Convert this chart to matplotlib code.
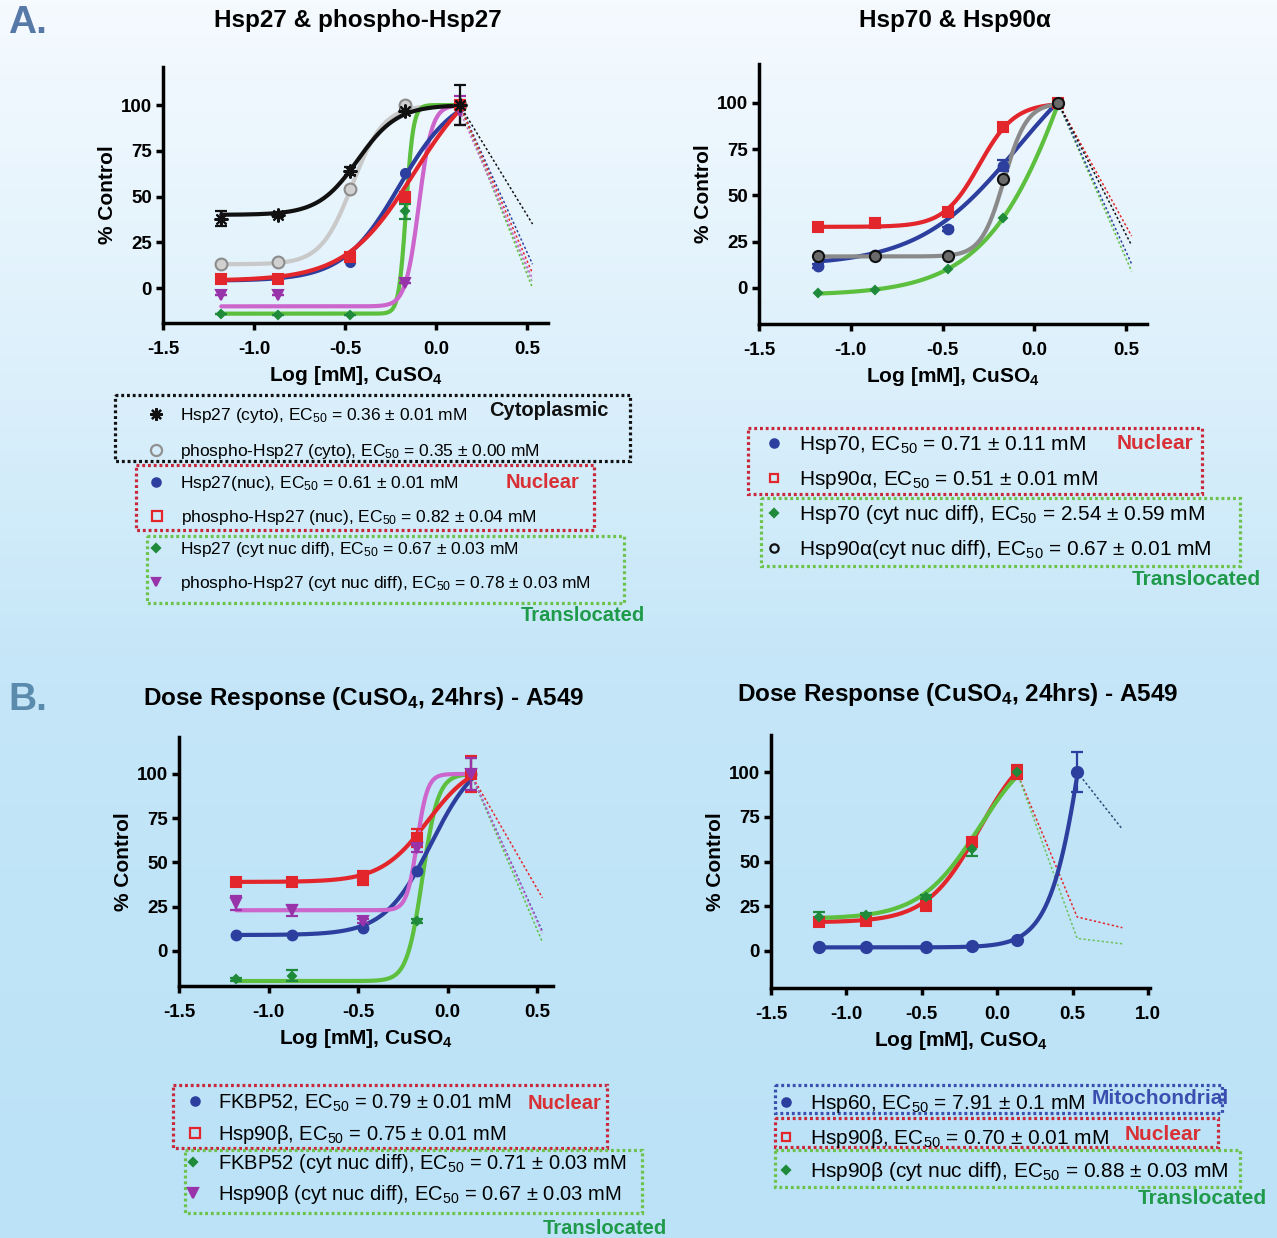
import numpy as np
import matplotlib
matplotlib.use('Agg')
import matplotlib.pyplot as plt
from matplotlib.patches import Rectangle
from matplotlib.colors import LinearSegmentedColormap

plt.rcParams['font.family'] = ['Liberation Sans', 'DejaVu Sans']
plt.rcParams['mathtext.fontset'] = 'custom'
plt.rcParams['mathtext.rm'] = 'Liberation Sans'
plt.rcParams['mathtext.default'] = 'regular'

W, H = 1277, 1238

# log dose, mM
log_dose = [-1.18, -0.87, -0.47, -0.17, 0.13]
tail_x = [0.13, 0.53]
tail_x_b2 = [0.13, 0.53, 0.83]
hsp60_x = [-1.18, -0.87, -0.47, -0.17, 0.13, 0.53]
hsp60_tail_x = [0.53, 0.83]

# fit params: bottom, top, logEC50, hill slope
# --- A left: Hsp27 & phospho-Hsp27
hsp27_cyto = [38, 40, 64, 97, 100]
hsp27_cyto_err = [4, 1, 2, 1, 11]
hsp27_cyto_fit = (40, 100, -0.43, 4.0)
hsp27_cyto_tail = 35
p_hsp27_cyto = [13, 14, 54, 100, 100]
p_hsp27_cyto_fit = (13, 100, -0.46, 5.0)
p_hsp27_cyto_tail = 3
hsp27_nuc = [5, 5, 14, 63, 100]
hsp27_nuc_fit = (4, 108, -0.20, 2.8)
hsp27_nuc_tail = 13
p_hsp27_nuc = [5, 5, 17, 50, 100]
p_hsp27_nuc_fit = (4, 122, -0.12, 2.3)
p_hsp27_nuc_tail = 8
hsp27_diff = [-14, -15, -15, 42, 100]
hsp27_diff_err = [0, 0, 0, 4, 2]
hsp27_diff_fit = (-14, 100, -0.165, 22)
hsp27_diff_tail = 0
p_hsp27_diff = [-4, -4, np.nan, 3, 97]
p_hsp27_diff_err = [0, 0, 0, 0, 8]
p_hsp27_diff_fit = (-10, 100, -0.095, 12)
p_hsp27_diff_tail = 5

# --- A right: Hsp70 & Hsp90a
hsp70 = [12, 18, 32, 66, 100]
hsp70_err = [1, 1, 1, 3, 1]
hsp70_fit = (12, 140, -0.09, 1.6)
hsp70_tail = 13
hsp90a = [33, 35, 41, 87, 100]
hsp90a_fit = (33, 100, -0.30, 4.5)
hsp90a_tail = 28
hsp70_diff = [-3, -1, 10, 38, 100]
hsp70_diff_fit = (-4, 301, 0.30, 1.7)
hsp70_diff_tail = 9
hsp90a_diff = [17, 17, 17, 59, 100]
hsp90a_diff_fit = (17, 100, -0.165, 7)
hsp90a_diff_tail = 23

# --- B left: FKBP52 & Hsp90b
fkbp52 = [9, 9, 13, 45, 100]
fkbp52_fit = (9, 113, -0.09, 3.3)
fkbp52_tail = 11
hsp90b = [39, 39, 41, 64, 100]
hsp90b_err = [2, 1, 4, 5, 10]
hsp90b_fit = (39, 108, -0.11, 3.3)
hsp90b_tail = 30
fkbp52_diff = [-16, -14, np.nan, 17, 100]
fkbp52_diff_err = [1, 3, 0, 1, 9]
fkbp52_diff_fit = (-17, 100, -0.14, 10)
fkbp52_diff_tail = 5
hsp90b_diff = [27, 23, 17, 58, 100]
hsp90b_diff_err = [4, 3, 1, 2, 9]
hsp90b_diff_fit = (23, 100, -0.17, 15)
hsp90b_diff_tail = 10

# --- B right: Hsp60 & Hsp90b
hsp60 = [2, 2, 2, 3, 6, 100]
hsp60_err = [0, 0, 0, 0, 0, 11]
hsp60_fit = (2, 300, 0.62, 3.6)
hsp60_tail = [100, 68]
hsp90b_b2 = [16, 17, 25, 61, 100]
hsp90b_b2_err = [1, 1, 1, 2, 4]
hsp90b_b2_fit = (16, 120, -0.12, 2.5)
hsp90b_b2_tail = [100, 19, 13]
hsp90b_b2_diff = [19, 20, 30, 57, 100]
hsp90b_b2_diff_err = [3, 1, 1, 4, 3]
hsp90b_b2_diff_fit = (18, 120, -0.12, 2.2)
hsp90b_b2_diff_tail = [100, 7, 4]

BLACK = '#111111'
LGRAY = '#c9c9c9'
MGRAY = '#8a8a8a'
BLUE = '#2d3f9e'
RED = '#e3262b'
GREEN = '#5cbf3e'
DGREEN = '#1e8a3a'
PINK = '#cc66cc'
PURPLE = '#9933aa'

fig = plt.figure(figsize=(W / 100, H / 100), dpi=100)

bg = fig.add_axes([0, 0, 1, 1], zorder=0)
cmap = LinearSegmentedColormap.from_list(
    'bg', [(0, '#f5faff'), (0.3, '#dcf0fb'), (0.55, '#c4e6f8'), (1, '#bbe2f7')])
bg.imshow(np.linspace(0, 1, 256).reshape(-1, 1), aspect='auto', cmap=cmap,
          extent=[0, 1, 0, 1])
bg.axis('off')


def px_axes(l, t, r, b):
    return fig.add_axes([l / W, 1 - b / H, (r - l) / W, (b - t) / H], zorder=1)


def style(ax, xlim, ylim, xticks):
    ax.set_facecolor('none')
    for s in ['top', 'right']:
        ax.spines[s].set_visible(False)
    for s in ['left', 'bottom']:
        ax.spines[s].set_linewidth(2.5)
    ax.set_xlim(xlim)
    ax.set_ylim(ylim)
    ax.set_xticks(xticks)
    ax.set_xticklabels(['%.1f' % v for v in xticks])
    ax.set_yticks([0, 25, 50, 75, 100])
    ax.set_yticklabels(['0', '25', '50', '75', '100'])
    ax.tick_params(width=2.5, length=5, labelsize=13.5, pad=3)
    ax.tick_params(axis='x', pad=8)
    for lbl in ax.get_xticklabels() + ax.get_yticklabels():
        lbl.set_fontweight('bold')
    ax.set_xlabel('Log [mM], CuSO$_4$', fontsize=15, fontweight='bold', labelpad=4)
    ax.set_ylabel('% Control', fontsize=15, fontweight='bold', labelpad=3)


def draw(ax, x, y, fit, lc, mc, marker, ms, err=None, mfc=None, mec=None,
         tx=None, ty=None, tc=None, xend=0.13):
    b, t, e, h = fit
    xs = np.linspace(x[0], xend, 300)
    ys = b + (t - b) / (1 + 10 ** (h * (e - xs)))
    if tx is not None:
        ax.plot(tx, ty, color=tc or lc, lw=1.1, ls=(0, (1.5, 1.5)), zorder=2)
    ax.plot(xs, ys, color=lc, lw=3, zorder=3, solid_capstyle='round')
    if err is not None:
        ax.errorbar(x, y, yerr=err, fmt='none', ecolor=mec or mc, elinewidth=1.6,
                    capsize=4, capthick=1.6, zorder=4)
    ax.plot(x, y, ls='none', marker=marker, ms=ms, mfc=mfc or mc, mec=mec or mc,
            mew=1.5, zorder=5)


# ---------------- A left
ax1 = px_axes(163, 67, 548, 323)
style(ax1, (-1.5, 0.615), (-19.1, 120.8), [-1.5, -1.0, -0.5, 0.0, 0.5])
draw(ax1, log_dose, p_hsp27_cyto, p_hsp27_cyto_fit, LGRAY, '#d0d0d0', 'o', 8.5,
     mec='#8c8c8c', tx=tail_x, ty=[100, p_hsp27_cyto_tail], tc='#a0a0a0')
draw(ax1, log_dose, hsp27_diff, hsp27_diff_fit, GREEN, DGREEN, 'D', 4, err=hsp27_diff_err,
     tx=tail_x, ty=[100, hsp27_diff_tail])
draw(ax1, log_dose, p_hsp27_diff, p_hsp27_diff_fit, PINK, PURPLE, 'v', 7, err=p_hsp27_diff_err,
     tx=tail_x, ty=[97, p_hsp27_diff_tail])
draw(ax1, log_dose, hsp27_nuc, hsp27_nuc_fit, BLUE, BLUE, 'o', 6.5,
     tx=tail_x, ty=[100, hsp27_nuc_tail])
draw(ax1, log_dose, p_hsp27_nuc, p_hsp27_nuc_fit, RED, RED, 's', 6.5,
     tx=tail_x, ty=[100, p_hsp27_nuc_tail])
draw(ax1, log_dose, hsp27_cyto, hsp27_cyto_fit, BLACK, BLACK, (8, 2, 0), 10, err=hsp27_cyto_err,
     tx=tail_x, ty=[100, hsp27_cyto_tail])

# ---------------- A right
ax2 = px_axes(759, 64, 1147, 324)
style(ax2, (-1.5, 0.614), (-19.5, 121), [-1.5, -1.0, -0.5, 0.0, 0.5])
draw(ax2, log_dose, hsp70_diff, hsp70_diff_fit, GREEN, DGREEN, 'D', 4,
     tx=tail_x, ty=[100, hsp70_diff_tail])
draw(ax2, log_dose, hsp70, hsp70_fit, BLUE, BLUE, 'o', 7, err=hsp70_err,
     tx=tail_x, ty=[100, hsp70_tail])
draw(ax2, log_dose, hsp90a, hsp90a_fit, RED, RED, 's', 7,
     tx=tail_x, ty=[100, hsp90a_tail])
draw(ax2, log_dose, hsp90a_diff, hsp90a_diff_fit, MGRAY, '#6a6a6a', 'o', 8, mec=BLACK,
     tx=tail_x, ty=[100, hsp90a_diff_tail], tc=BLACK)

# ---------------- B left
ax3 = px_axes(179, 737, 553, 986)
style(ax3, (-1.5, 0.589), (-19.8, 120.9), [-1.5, -1.0, -0.5, 0.0, 0.5])
draw(ax3, log_dose, fkbp52_diff, fkbp52_diff_fit, GREEN, DGREEN, 'D', 4, err=fkbp52_diff_err,
     tx=tail_x, ty=[100, fkbp52_diff_tail])
draw(ax3, log_dose, fkbp52, fkbp52_fit, BLUE, BLUE, 'o', 7,
     tx=tail_x, ty=[100, fkbp52_tail])
draw(ax3, log_dose, hsp90b, hsp90b_fit, RED, RED, 's', 7, err=hsp90b_err,
     tx=tail_x, ty=[100, hsp90b_tail])
draw(ax3, log_dose, hsp90b_diff, hsp90b_diff_fit, PINK, PURPLE, 'v', 7.5, err=hsp90b_diff_err,
     tx=tail_x, ty=[100, hsp90b_diff_tail])

# ---------------- B right
ax4 = px_axes(771, 735, 1150, 988)
style(ax4, (-1.5, 1.013), (-20.7, 120.7), [-1.5, -1.0, -0.5, 0.0, 0.5, 1.0])
draw(ax4, log_dose, hsp90b_b2, hsp90b_b2_fit, RED, RED, 's', 7, err=hsp90b_b2_err,
     tx=tail_x_b2, ty=hsp90b_b2_tail)
draw(ax4, log_dose, hsp90b_b2_diff, hsp90b_b2_diff_fit, GREEN, DGREEN, 'D', 4.5,
     err=hsp90b_b2_diff_err, tx=tail_x_b2, ty=hsp90b_b2_diff_tail, tc='#6bc25a')
draw(ax4, hsp60_x, hsp60, hsp60_fit, BLUE, BLUE, 'o', 8, err=hsp60_err,
     tx=hsp60_tail_x, ty=hsp60_tail, tc='#2a4a7a', xend=0.53)

# ---------------- text overlay (pixel coordinates)
ov = fig.add_axes([0, 0, 1, 1], zorder=3)
ov.set_xlim(0, W)
ov.set_ylim(H, 0)
ov.axis('off')
ov.patch.set_alpha(0)

ov.text(8, 23, 'A.', fontsize=28, fontweight='bold', color='#5679a8', va='center')
ov.text(8, 700, 'B.', fontsize=28, fontweight='bold', color='#5a8aac', va='center')
ov.text(358, 21, 'Hsp27 & phospho-Hsp27', fontsize=17.5, fontweight='bold', ha='center', va='center')
ov.text(955, 21, 'Hsp70 & Hsp90α', fontsize=17.5, fontweight='bold', ha='center', va='center')
ov.text(364, 698, 'Dose Response (CuSO$_4$, 24hrs) - A549', fontsize=17.5, fontweight='bold',
        ha='center', va='center')
ov.text(958, 694, 'Dose Response (CuSO$_4$, 24hrs) - A549', fontsize=17.5, fontweight='bold',
        ha='center', va='center')

NUC = '#d93036'
TRANS = '#1f9a4a'
MITO = '#3a4fb0'


def box(x0, y0, x1, y1, color):
    ov.add_patch(Rectangle((x0, y0), x1 - x0, y1 - y0, fill=False, ec=color, lw=2.3,
                           ls=(0, (0.9, 0.9))))


def entry(xm, xt, y, marker, color, text, fs, ms=7, mfc=None):
    ov.plot([xm], [y], marker=marker, ls='none', ms=ms, mfc=mfc or color, mec=color, mew=1.6)
    ov.text(xt, y + 0.358 * fs * 100 / 72, text, fontsize=fs, va='baseline')


def tag(x, y, text, color, fs=15, ha='left'):
    ov.text(x, y + 0.358 * fs * 100 / 72, text, fontsize=fs, fontweight='bold', color=color,
            va='baseline', ha=ha)


EC = 'EC$_{50}$'

# A left legend
box(115, 395, 630, 461, BLACK)
box(136, 465, 594, 530, '#c8283a')
box(147, 536, 624, 603, '#6cc24a')
fs = 12.5
entry(156, 180, 414, (8, 2, 0), BLACK, 'Hsp27 (cyto), %s = 0.36 ± 0.01 mM' % EC, fs, ms=9)
entry(156, 180, 450, 'o', '#909090', 'phospho-Hsp27 (cyto), %s = 0.35 ± 0.00 mM' % EC, fs, ms=8, mfc='none')
entry(156, 180, 482, 'o', BLUE, 'Hsp27(nuc), %s = 0.61 ± 0.01 mM' % EC, fs, ms=6)
entry(157, 181, 516, 's', RED, 'phospho-Hsp27 (nuc), %s = 0.82 ± 0.04 mM' % EC, fs, ms=6.5, mfc='none')
entry(156, 180, 548, 'D', DGREEN, 'Hsp27 (cyt nuc diff), %s = 0.67 ± 0.03 mM' % EC, fs, ms=4)
entry(156, 180, 582, 'v', PURPLE, 'phospho-Hsp27 (cyt nuc diff), %s = 0.78 ± 0.03 mM' % EC, fs, ms=6)
tag(489, 409, 'Cytoplasmic', BLACK, fs=14.5)
tag(506, 481, 'Nuclear', NUC, fs=14.5)
tag(645, 614, 'Translocated', TRANS, fs=14.5, ha='right')

# A right legend
box(748, 428, 1202, 494, '#c8283a')
box(761, 498, 1240, 566, '#6cc24a')
fs = 15
entry(774, 799, 443, 'o', BLUE, 'Hsp70, %s = 0.71 ± 0.11 mM' % EC, fs, ms=6)
entry(774, 799, 478, 's', RED, 'Hsp90α, %s = 0.51 ± 0.01 mM' % EC, fs, ms=6, mfc='none')
entry(774, 799, 513, 'D', DGREEN, 'Hsp70 (cyt nuc diff), %s = 2.54 ± 0.59 mM' % EC, fs, ms=4.5)
entry(774, 799, 548, 'o', BLACK, 'Hsp90α(cyt nuc diff), %s = 0.67 ± 0.01 mM' % EC, fs, ms=6, mfc='none')
tag(1117, 442, 'Nuclear', NUC, fs=15)
tag(1261, 578, 'Translocated', TRANS, fs=15, ha='right')

# B left legend
box(173, 1085, 607, 1148, '#c8283a')
box(185, 1150, 642, 1213, '#6cc24a')
fs = 14.5
entry(195, 218, 1101, 'o', BLUE, 'FKBP52, %s = 0.79 ± 0.01 mM' % EC, fs, ms=6)
entry(195, 218, 1133, 's', RED, 'Hsp90β, %s = 0.75 ± 0.01 mM' % EC, fs, ms=6.5, mfc='none')
entry(193, 218, 1162, 'D', DGREEN, 'FKBP52 (cyt nuc diff), %s = 0.71 ± 0.03 mM' % EC, fs, ms=4.5)
entry(193, 218, 1193, 'v', PURPLE, 'Hsp90β (cyt nuc diff), %s = 0.67 ± 0.03 mM' % EC, fs, ms=6.5)
tag(528, 1102, 'Nuclear', NUC, fs=14.5)
tag(667, 1227, 'Translocated', TRANS, fs=14.5, ha='right')

# B right legend
box(775, 1085, 1222, 1113, '#3a4fb0')
box(775, 1118, 1218, 1147, '#c8283a')
box(775, 1150, 1240, 1187, '#6cc24a')
fs = 15
entry(786, 810, 1102, 'o', BLUE, 'Hsp60, %s = 7.91 ± 0.1 mM' % EC, fs, ms=6)
entry(786, 810, 1137, 's', RED, 'Hsp90β, %s = 0.70 ± 0.01 mM' % EC, fs, ms=6, mfc='none')
entry(786, 810, 1170, 'D', DGREEN, 'Hsp90β (cyt nuc diff), %s = 0.88 ± 0.03 mM' % EC, fs, ms=4.5)
tag(1092, 1097, 'Mitochondrial', MITO, fs=15)
tag(1125, 1133, 'Nuclear', NUC, fs=15)
tag(1267, 1197, 'Translocated', TRANS, fs=15, ha='right')

fig.savefig('out.png', dpi=100)
